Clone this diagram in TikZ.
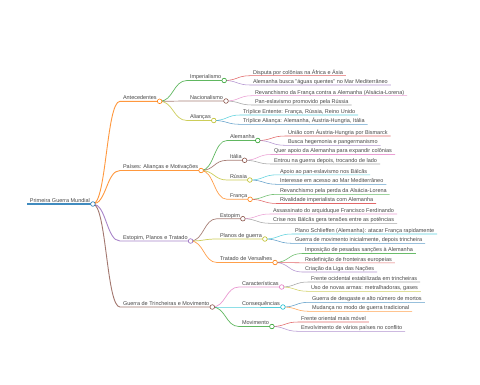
\documentclass[tikz,border=0pt]{standalone}
\usepackage{fontspec}
\setmainfont{Liberation Sans}
\usetikzlibrary{calc}
\definecolor{mmblue}{HTML}{1F77B4}
\definecolor{mmorange}{HTML}{FF7F0E}
\definecolor{mmgreen}{HTML}{2CA02C}
\definecolor{mmred}{HTML}{D62728}
\definecolor{mmpurple}{HTML}{9467BD}
\definecolor{mmbrown}{HTML}{8C564B}
\definecolor{mmpink}{HTML}{E377C2}
\definecolor{mmgray}{HTML}{7F7F7F}
\definecolor{mmolive}{HTML}{BCBD22}
\definecolor{mmcyan}{HTML}{17BECF}
\tikzset{
  mmtext/.style={anchor=south west, inner xsep=2.8pt, inner ysep=1.4pt,
                 text height=4pt, text depth=0pt, text=black!72,
                 font=\fontsize{5.5}{6}\selectfont},
  mmlink/.style={to path={let \p1=(\tikztostart), \p2=(\tikztotarget) in
                 .. controls ({(\x1+\x2)/2},\y1) and ({(\x1+\x2)/2},\y2) .. (\tikztotarget)}},
  mmdot/.style={draw=#1, fill=white, line width=0.6pt},
  lw0/.style={line width=1.2pt, draw opacity=0.85},
  lw1/.style={line width=0.9pt, draw opacity=0.8},
  lw2/.style={line width=0.7pt, draw opacity=0.75},
  lw3/.style={line width=0.55pt, draw opacity=0.7},
}
% parent, name, x, y, colour, width, text
\newcommand{\mmitem}[7]{%
  \node[mmtext] (#2) at (#3,#4) {#7};
  \draw[#5, #6] (#1.south east) to[mmlink] (#2.south west) -- (#2.south east);
}

\begin{document}
\begin{tikzpicture}[x=1pt, y=-1pt]
  \fill[white] (0,0) rectangle (480,384);
  \useasboundingbox (0,0) rectangle (480,384);

  % root
  \node[mmtext] (root) at (27,204) {Primeira Guerra Mundial};
  \draw[mmblue, lw0] (root.south west) -- (root.south east);

  % first level
  \mmitem{root}{ante}{120}{101.3}{mmorange}{lw1}{Antecedentes}
  \mmitem{root}{paises}{120}{170.5}{mmorange}{lw1}{Países: Alianças e Motivações}
  \mmitem{root}{estopim}{120}{241}{mmpurple}{lw1}{Estopim, Planos e Tratado}
  \mmitem{root}{guerra}{120}{307}{mmbrown}{lw1}{Guerra de Trincheiras e Movimento}

  % Antecedentes
  \mmitem{ante}{imper}{187}{80.5}{mmgreen}{lw2}{Imperialismo}
  \mmitem{ante}{nacio}{187}{101}{mmbrown}{lw2}{Nacionalismo}
  \mmitem{ante}{alian}{187}{120.5}{mmolive}{lw2}{Alianças}
  \mmitem{imper}{disputa}{250}{75.7}{mmred}{lw3}{Disputa por colônias na África e Ásia}
  \mmitem{imper}{aguas}{250}{85}{mmpurple}{lw3}{Alemanha busca "águas quentes" no Mar Mediterrâneo}
  \mmitem{nacio}{revanche}{252}{95.7}{mmpink}{lw3}{Revanchismo da França contra a Alemanha (Alsácia-Lorena)}
  \mmitem{nacio}{paneslav}{252}{105}{mmgray}{lw3}{Pan-eslavismo promovido pela Rússia}
  \mmitem{alian}{entente}{240}{115}{mmcyan}{lw3}{Tríplice Entente: França, Rússia, Reino Unido}
  \mmitem{alian}{triplice}{240}{124.3}{mmblue}{lw3}{Tríplice Aliança: Alemanha, Áustria-Hungria, Itália}

  % Paises
  \mmitem{paises}{alem}{227}{140.5}{mmgreen}{lw2}{Alemanha}
  \mmitem{paises}{italia}{227}{160.3}{mmbrown}{lw2}{Itália}
  \mmitem{paises}{russia}{227}{180}{mmolive}{lw2}{Rússia}
  \mmitem{paises}{franca}{227}{199.3}{mmorange}{lw2}{França}
  \mmitem{alem}{uniao}{285}{136}{mmred}{lw3}{União com Áustria-Hungria por Bismarck}
  \mmitem{alem}{hegemonia}{285}{145.3}{mmpurple}{lw3}{Busca hegemonia e pangermanismo}
  \mmitem{italia}{apoio}{271}{154.5}{mmpink}{lw3}{Quer apoio da Alemanha para expandir colônias}
  \mmitem{italia}{trocou}{271}{164}{mmgray}{lw3}{Entrou na guerra depois, trocando de lado}
  \mmitem{russia}{balcas}{277}{174.8}{mmcyan}{lw3}{Apoio ao pan-eslavismo nos Bálcãs}
  \mmitem{russia}{mediterr}{277}{184.3}{mmblue}{lw3}{Interesse em acesso ao Mar Mediterrâneo}
  \mmitem{franca}{alsacia}{277}{194.3}{mmgreen}{lw3}{Revanchismo pela perda da Alsácia-Lorena}
  \mmitem{franca}{rivalid}{277}{203.5}{mmred}{lw3}{Rivalidade imperialista com Alemanha}

  % Estopim
  \mmitem{estopim}{estop}{217}{218.7}{mmbrown}{lw2}{Estopim}
  \mmitem{estopim}{planos}{217}{239}{mmolive}{lw2}{Planos de guerra}
  \mmitem{estopim}{tratado}{217}{262.5}{mmorange}{lw2}{Tratado de Versalhes}
  \mmitem{estop}{assassin}{270}{214}{mmpink}{lw3}{Assassinato do arquiduque Francisco Ferdinando}
  \mmitem{estop}{crise}{270}{223.3}{mmgray}{lw3}{Crise nos Bálcãs gera tensões entre as potências}
  \mmitem{planos}{schlieffen}{292}{234}{mmcyan}{lw3}{Plano Schlieffen (Alemanha): atacar França rapidamente}
  \mmitem{planos}{trincheira}{292}{243.3}{mmblue}{lw3}{Guerra de movimento inicialmente, depois trincheira}
  \mmitem{tratado}{sancoes}{302}{253.5}{mmgreen}{lw3}{Imposição de pesadas sanções à Alemanha}
  \mmitem{tratado}{fronteiras}{302}{262.8}{mmred}{lw3}{Redefinição de fronteiras europeias}
  \mmitem{tratado}{liga}{302}{272}{mmpurple}{lw3}{Criação da Liga das Nações}

  % Guerra
  \mmitem{guerra}{carac}{239}{287}{mmpink}{lw2}{Características}
  \mmitem{guerra}{conseq}{239}{307}{mmcyan}{lw2}{Consequências}
  \mmitem{guerra}{movim}{239}{326.5}{mmgreen}{lw2}{Movimento}
  \mmitem{carac}{ocidental}{308}{282}{mmgray}{lw3}{Frente ocidental estabilizada em trincheiras}
  \mmitem{carac}{armas}{308}{291.3}{mmolive}{lw3}{Uso de novas armas: metralhadoras, gases}
  \mmitem{conseq}{desgaste}{309}{302.3}{mmblue}{lw3}{Guerra de desgaste e alto número de mortos}
  \mmitem{conseq}{mudanca}{309}{311.3}{mmorange}{lw3}{Mudança no modo de guerra tradicional}
  \mmitem{movim}{oriental}{298}{322}{mmred}{lw3}{Frente oriental mais móvel}
  \mmitem{movim}{envolv}{298}{331.3}{mmpurple}{lw3}{Envolvimento de vários países no conflito}

  % circles on top
  \foreach \nd/\col in {root/mmblue, ante/mmorange, paises/mmorange, estopim/mmpurple,
      guerra/mmbrown, imper/mmgreen, nacio/mmbrown, alian/mmolive, alem/mmgreen,
      italia/mmbrown, russia/mmolive, franca/mmorange, estop/mmbrown, planos/mmolive,
      tratado/mmorange, carac/mmpink, conseq/mmcyan, movim/mmgreen}
    \draw[mmdot=\col] (\nd.south east) circle (2.3pt);
\end{tikzpicture}
\end{document}
